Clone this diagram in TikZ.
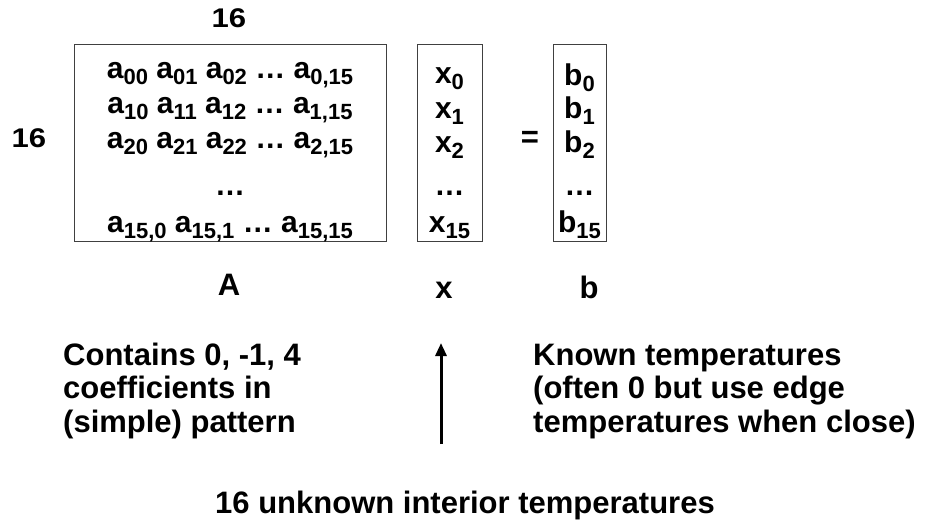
\documentclass[tikz,border=0pt]{standalone}
\usepackage{fontspec}
\setmainfont{Liberation Sans}
\usetikzlibrary{arrows.meta}

% subscript set in a smaller size, dropped below the baseline
\newcommand\lowsub[1]{\raisebox{-6.5pt}{\fontsize{22}{22}\selectfont #1}}

\begin{document}
\begin{tikzpicture}[x=1pt,y=-1pt,
  txt/.style={inner sep=0pt,font=\fontsize{30}{30}\selectfont\bfseries},
  lbl/.style={inner sep=0pt,font=\fontsize{31}{31}\selectfont\bfseries},
  dim/.style={inner sep=0pt,font=\fontsize{27}{27}\selectfont\bfseries},
  para/.style={inner sep=0pt,align=left,
    font=\fontsize{31}{33.3}\selectfont\bfseries},
  vecbox/.style={draw=black!75,line width=1pt,inner sep=0pt},
  pointer/.style={line width=3pt,-{Triangle[length=13pt,width=11pt]}}]
\useasboundingbox (0,0) rectangle (931,523);

% the three boxes: matrix A, unknown vector x, right-hand side b
\node[vecbox,minimum width=312pt,minimum height=197pt] (A) at (230,142.5) {};
\node[vecbox,minimum width=65pt,minimum height=197pt] (X) at (449.5,142.5) {};
\node[vecbox,minimum width=53pt,minimum height=197pt] (B) at (579.5,142.5) {};

% dimension labels of A
\node[dim] (top16) at (229,18) {\scalebox{1.15}[1]{16}};
\node[dim] (left16) at (29,138.5) {\scalebox{1.15}[1]{16}};

% entries of A
\node[txt,anchor=base] (a0) at (230,78) {a\lowsub{00} a\lowsub{01} a\lowsub{02} \dots{} a\lowsub{0,15}};
\node[txt,anchor=base] (a1) at (230,113) {a\lowsub{10} a\lowsub{11} a\lowsub{12} \dots{} a\lowsub{1,15}};
\node[txt,anchor=base] (a2) at (230,148) {a\lowsub{20} a\lowsub{21} a\lowsub{22} \dots{} a\lowsub{2,15}};
\node[txt,anchor=base] (ad) at (230,195) {\dots};
\node[txt,anchor=base] (a3) at (230,232) {a\lowsub{15,0} a\lowsub{15,1} \dots{} a\lowsub{15,15}};

% entries of x
\node[txt,anchor=base] (x0) at (449.5,83) {x\lowsub{0}};
\node[txt,anchor=base] (x1) at (449.5,118) {x\lowsub{1}};
\node[txt,anchor=base] (x2) at (449.5,152) {x\lowsub{2}};
\node[txt,anchor=base] (xd) at (449.5,195) {\dots};
\node[txt,anchor=base] (x3) at (449.5,232) {x\lowsub{15}};

% entries of b
\node[txt,anchor=base] (b0) at (579.5,85) {b\lowsub{0}};
\node[txt,anchor=base] (b1) at (579.5,118) {b\lowsub{1}};
\node[txt,anchor=base] (b2) at (579.5,152) {b\lowsub{2}};
\node[txt,anchor=base] (bd) at (579.5,195) {\dots};
\node[txt,anchor=base] (b3) at (579.5,232) {b\lowsub{15}};

% equals sign
\node[lbl] (eq) at (530,139) {=};

% names under the boxes
\node[lbl,anchor=base] (nameA) at (229,295) {A};
\node[lbl,anchor=base] (namex) at (444,298) {x};
\node[lbl,anchor=base] (nameb) at (589,298) {b};

% explanations (base anchor sits on the last line)
\node[para,anchor=base west] (coef) at (63,432)
  {Contains 0, -1, 4\\coefficients in\\(simple) pattern};
\node[para,anchor=base west] (known) at (533,432)
  {Known temperatures\\(often 0 but use edge\\temperatures when close)};
\node[lbl,anchor=base west] (unk) at (215,513) {16 unknown interior temperatures};

% arrow pointing up to the unknowns
\coordinate (tail) at (441,444);
\coordinate (tip) at (441,343);
\draw[pointer] (tail) -- (tip);
\end{tikzpicture}
\end{document}
